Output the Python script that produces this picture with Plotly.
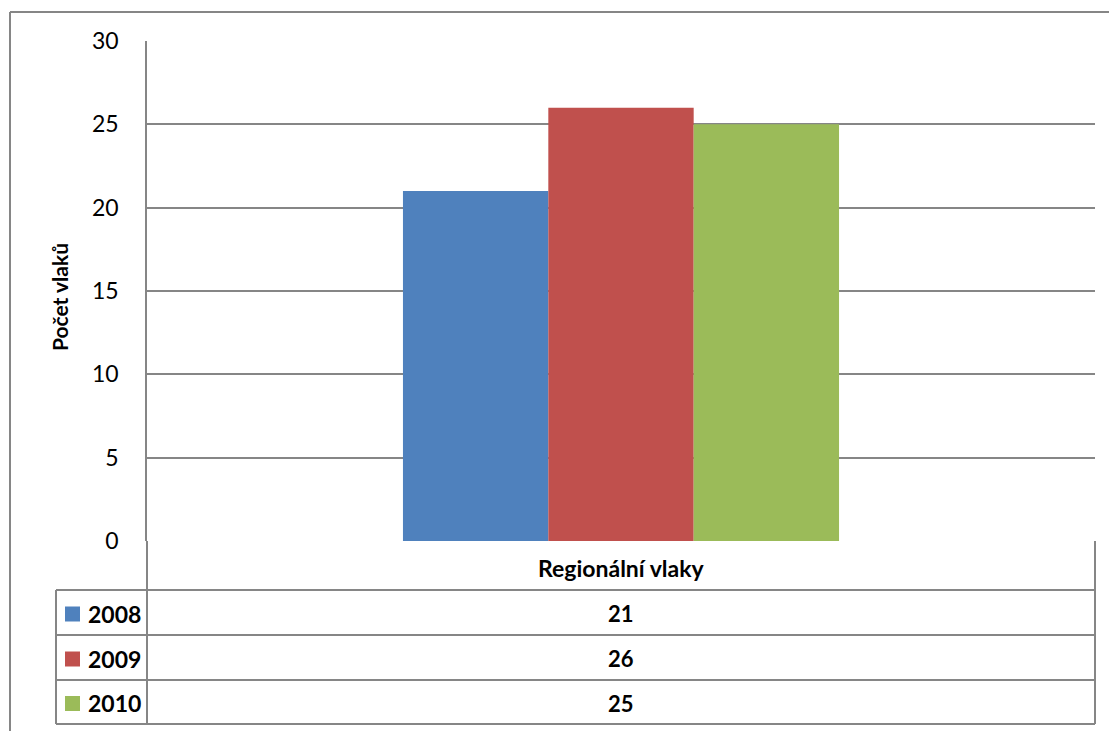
import plotly.graph_objects as go

W, H = 1109, 731
categories = ["Regionální vlaky"]
series_names = ["2008", "2009", "2010"]
series_values = [[21], [26], [25]]
colors = ["#4F81BD", "#C0504D", "#9BBB59"]
y_ticks = [0, 5, 10, 15, 20, 25, 30]
y_title = "Počet vlaků"

FONT = "Lato, Carlito, Calibri, 'Open Sans', sans-serif"
GRID = "#868686"

def px(x):
    return x / W

def py(y):
    return 1 - y / H

# plot area pixels
L, R, T, B = 147, 1095, 41, 541

fig = go.Figure()
for name, vals, col in zip(series_names, series_values, colors):
    fig.add_trace(go.Bar(x=categories, y=vals, name=name, marker=dict(color=col, line=dict(width=0)),
                         showlegend=False))

fig.update_layout(
    width=W, height=H, margin=dict(l=0, r=0, t=0, b=0, pad=0, autoexpand=False),
    showlegend=False,
    paper_bgcolor="white", plot_bgcolor="white",
    barmode="group", bargap=0.54, bargroupgap=0,
    font=dict(family=FONT, size=22, color="black"),
    xaxis=dict(domain=[px(L), px(R)], showticklabels=False, showgrid=False, zeroline=False,
               showline=False, ticks="", automargin=False),
    yaxis=dict(domain=[py(B), py(T)], range=[0, 30], tickvals=y_ticks, showgrid=True,
               gridcolor=GRID, gridwidth=1.5, zeroline=False, showline=True, linecolor=GRID,
               linewidth=1.5, ticks="", ticklabelstandoff=22, automargin=False,
               tickfont=dict(family=FONT, size=23, color="black")),
)

shapes = []
def line(x0, y0, x1, y1, w=2):
    shapes.append(dict(type="line", xref="paper", yref="paper", x0=px(x0), y0=py(y0), x1=px(x1), y1=py(y1),
                       line=dict(color=GRID, width=w), layer="above"))

# outer chart border (top and left)
line(10, 12, W, 12, 2)
line(10, 12, 10, H, 2)

# data table
row_tops = [541, 590, 635, 680, 724]
line(L, B, L, row_tops[-1], 2)        # left border of header and value cells
line(R, B, R, row_tops[-1], 2)        # right border
for yv in row_tops[1:]:
    line(56, yv, R, yv, 2)
line(56, row_tops[1], 56, row_tops[-1], 2)

ann = []
ann.append(dict(x=px((L + R) / 2), y=py((row_tops[0] + row_tops[1]) / 2 + 2), xref="paper", yref="paper",
                xanchor="center", yanchor="middle",
                text="<b>%s</b>" % categories[0], showarrow=False, font=dict(family=FONT, size=23)))
for i, (name, vals, col) in enumerate(zip(series_names, series_values, colors)):
    yc = (row_tops[i + 1] + row_tops[i + 2]) / 2 + 1
    ann.append(dict(x=px((L + R) / 2), y=py(yc), xref="paper", yref="paper", xanchor="center", yanchor="middle",
                    text="<b>%d</b>" % vals[0], showarrow=False, font=dict(family=FONT, size=22)))
    ann.append(dict(x=px(86), y=py(yc), xref="paper", yref="paper", xanchor="left", yanchor="middle",
                    text="<b>%s</b>" % name, showarrow=False, font=dict(family=FONT, size=23)))
    shapes.append(dict(type="rect", xref="paper", yref="paper", x0=px(65), x1=px(80),
                       y0=py(yc - 7), y1=py(yc + 8), fillcolor=col, line=dict(width=0)))

ann.append(dict(x=px(60), y=py(297), xref="paper", yref="paper", xanchor="center", yanchor="middle",
                text="<b>%s</b>" % y_title,
                textangle=-90, showarrow=False, font=dict(family=FONT, size=21)))

fig.update_layout(shapes=shapes, annotations=ann)
fig.write_html("out.html")
